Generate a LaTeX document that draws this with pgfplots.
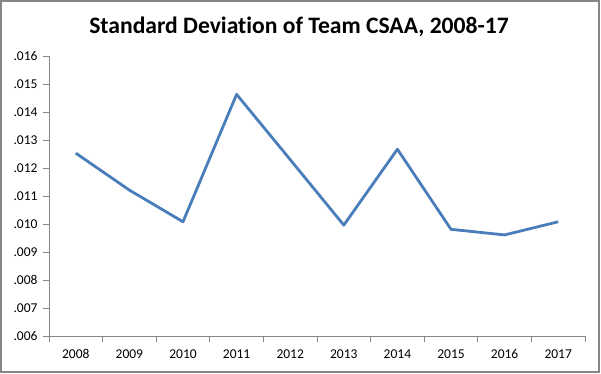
\documentclass[border=0pt]{standalone}
\usepackage{fontspec}
\setmainfont[Ligatures=NoCommon]{Carlito}
\usepackage{pgfplots}
\pgfplotsset{compat=1.18}
\definecolor{exblue}{HTML}{4A7EBB}
\definecolor{axgray}{HTML}{868686}
\begin{document}
\begin{tikzpicture}[x=1pt,y=1pt]
\useasboundingbox (0,0) rectangle (601,373);
\draw[axgray,line width=1.2pt] (1,1) rectangle (599,372);
\node[font=\fontsize{23.6}{27}\selectfont\bfseries,anchor=center] at (299,346) {Standard Deviation of Team CSAA, 2008-17};
\begin{axis}[
  at={(49pt,37pt)}, anchor=south west,
  scale only axis, width=536pt, height=280pt,
  xmin=-0.5, xmax=9.5, ymin=0.006, ymax=0.016,
  axis lines=left, axis line style={axgray, line width=0.8pt, -},
  xtick={0,1,2,3,4,5,6,7,8,9},
  xticklabels={2008,2009,2010,2011,2012,2013,2014,2015,2016,2017},
  minor xtick={-0.5,0.5,1.5,2.5,3.5,4.5,5.5,6.5,7.5,8.5,9.5},
  ytick={0.006,0.007,0.008,0.009,0.010,0.011,0.012,0.013,0.014,0.015,0.016},
  yticklabels={.006,.007,.008,.009,.010,.011,.012,.013,.014,.015,.016},
  scaled y ticks=false,
  /pgf/number format/assume math mode=true,
  major x tick style={draw=none},
  major y tick style={axgray, line width=0.8pt},
  minor x tick style={axgray, line width=0.8pt},
  tick align=outside,
  major tick length=6pt, minor tick length=6pt,
  ticklabel style={font=\fontsize{13.5}{15}\selectfont, text=black},
  xticklabel style={yshift=-4pt},
  yticklabel style={xshift=-2pt},
  clip=false,
]
\addplot[exblue, line width=2.8pt, line join=round] coordinates {
 (0,0.01253) (1,0.01121) (2,0.01008) (3,0.01463) (4,0.01230)
 (5,0.00996) (6,0.01267) (7,0.00981) (8,0.00961) (9,0.01008)
};
\end{axis}
\end{tikzpicture}
\end{document}
